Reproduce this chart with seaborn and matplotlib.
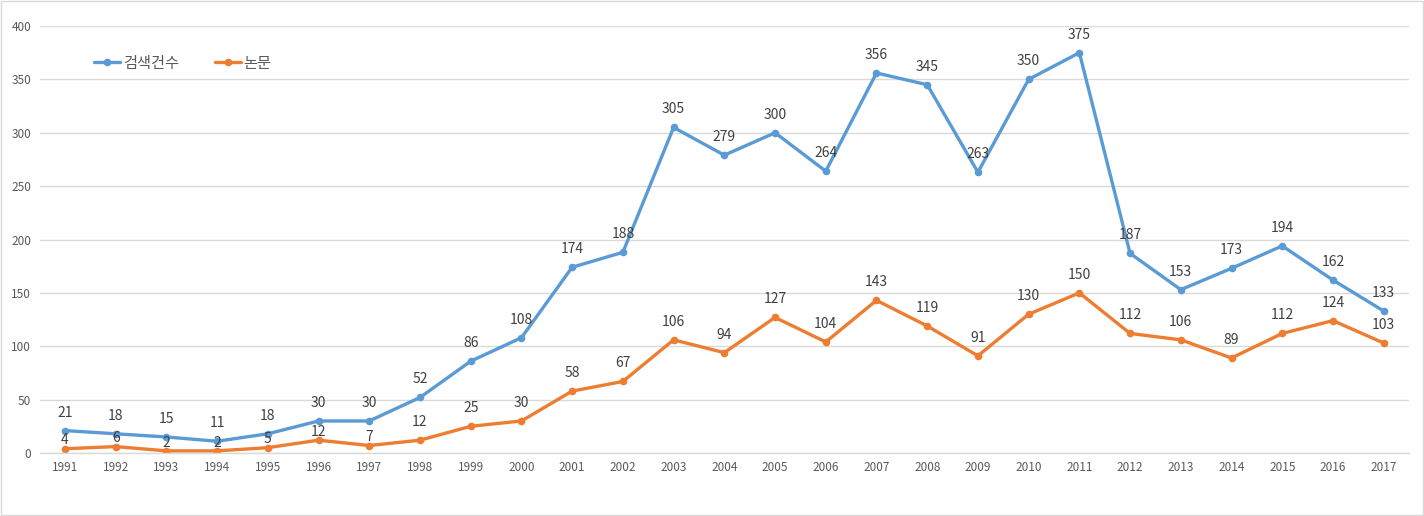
import matplotlib
matplotlib.use("Agg")
import matplotlib.pyplot as plt
import seaborn as sns
import pandas as pd
from matplotlib.patches import Rectangle

years = list(range(1991, 2018))
search_counts = [21, 18, 15, 11, 18, 30, 30, 52, 86, 108, 174, 188, 305, 279, 300, 264,
                 356, 345, 263, 350, 375, 187, 153, 173, 194, 162, 133]
papers = [4, 6, 2, 2, 5, 12, 7, 12, 25, 30, 58, 67, 106, 94, 127, 104,
          143, 119, 91, 130, 150, 112, 106, 89, 112, 124, 103]
series_names = ["검색건수", "논문"]
colors = ["#5B9BD5", "#ED7D31"]

sns.set_theme(style="white")
plt.rcParams['font.family'] = ['Noto Sans CJK KR', 'DejaVu Sans']

df = pd.DataFrame({
    "year": years * 2,
    "value": search_counts + papers,
    "series": [series_names[0]] * len(years) + [series_names[1]] * len(years),
})

fig = plt.figure(figsize=(14.24, 5.16), dpi=100)
ax = fig.add_axes([0.0278, 0.1221, 0.9617, 0.8275])

sns.lineplot(data=df, x="year", y="value", hue="series", palette=colors,
             marker="o", markersize=5.5, markeredgewidth=0, linewidth=2.4,
             ax=ax, legend=True)

for x, v in zip(years, search_counts):
    ax.annotate(str(v), (x, v), xytext=(0, 13), textcoords="offset points",
                ha="center", va="center", fontsize=10, color="#404040")
for x, v, b in zip(years, papers, search_counts):
    off = 6 if (b - v) < 30 else 13
    ax.annotate(str(v), (x, v), xytext=(0, off), textcoords="offset points",
                ha="center", va="center", fontsize=10, color="#404040")

ax.set_xlim(years[0] - 0.5, years[-1] + 0.5)
ax.set_ylim(0, 400)
ax.set_yticks(range(0, 401, 50))
ax.set_xticks(years)
ax.set_xticklabels([str(y) for y in years])
ax.tick_params(axis="both", labelsize=8.5, colors="#595959", length=0, pad=6)
ax.set_xlabel("")
ax.set_ylabel("")
ax.grid(axis="y", color="#D9D9D9", linewidth=1)
for s in ["top", "right", "left"]:
    ax.spines[s].set_visible(False)
ax.spines["bottom"].set_color("#D9D9D9")
ax.spines["bottom"].set_linewidth(1)

leg = ax.legend(loc="upper left", bbox_to_anchor=(0.03, 0.965), ncol=2, frameon=False,
                fontsize=11, handlelength=1.7, columnspacing=2.4, handletextpad=0.15)
for t in leg.get_texts():
    t.set_color("#595959")

fig.patches.append(Rectangle((0.001, 0.002), 0.998, 0.996, transform=fig.transFigure,
                             fill=False, edgecolor="#D9D9D9", linewidth=1))

fig.savefig("out.png", dpi=100)
